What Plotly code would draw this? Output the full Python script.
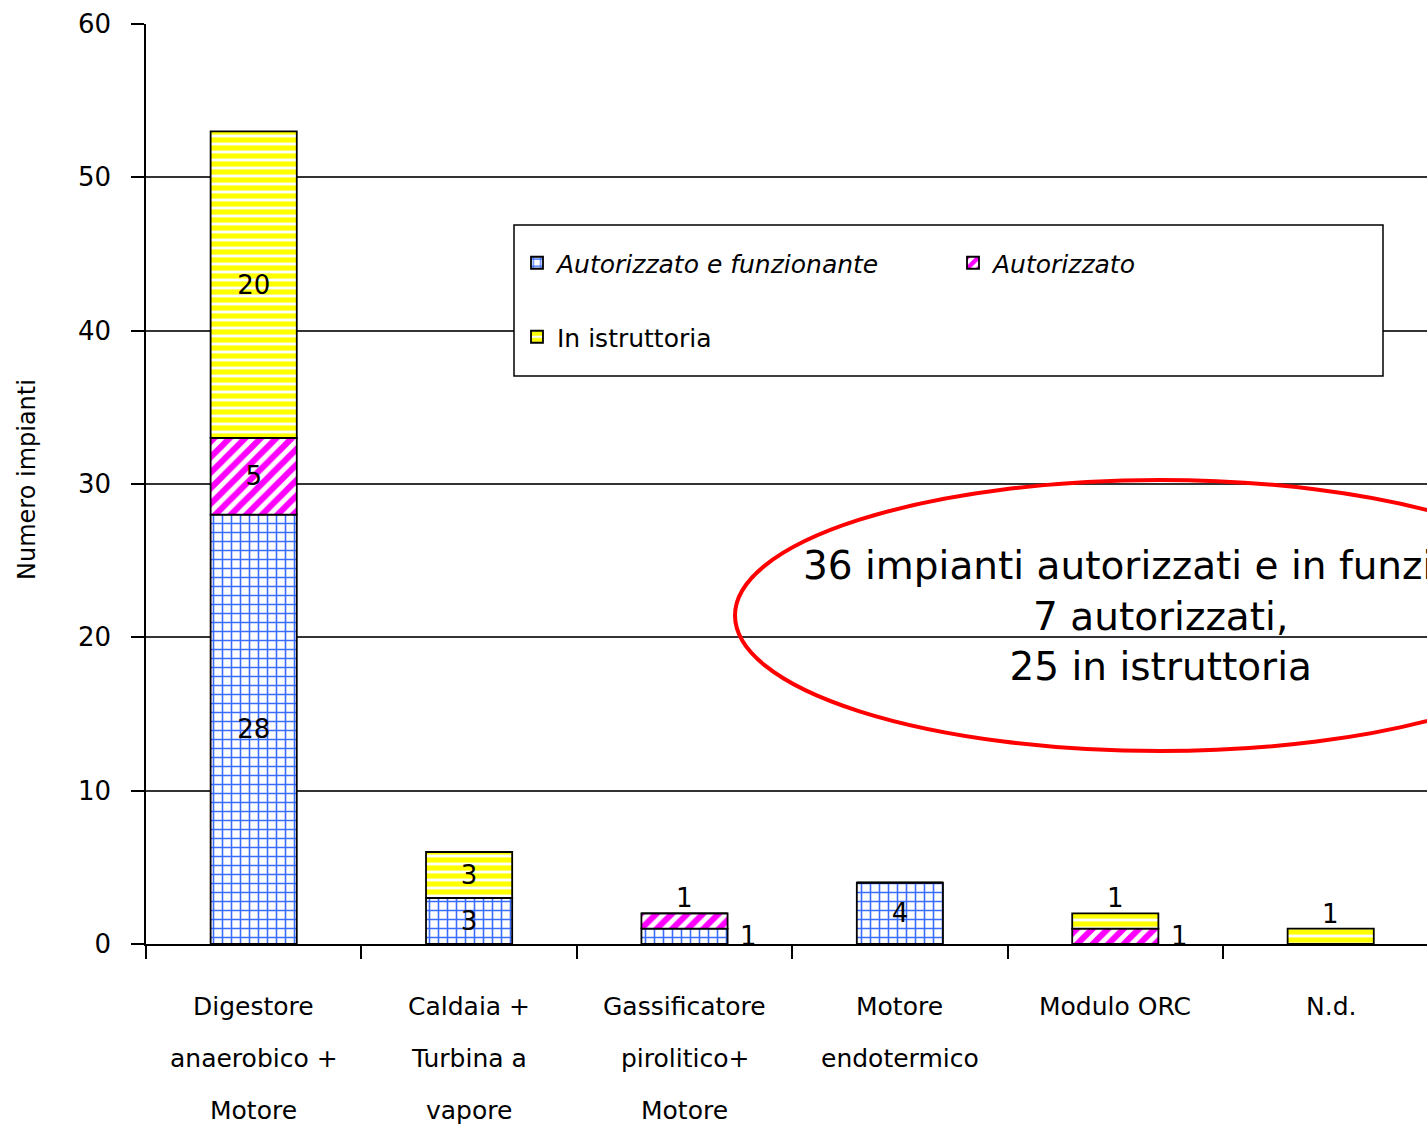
import plotly.graph_objects as go

categories = ["Digestore\nanaerobico +\nMotore", "Caldaia +\nTurbina a\nvapore",
              "Gassificatore\npirolitico+\nMotore", "Motore\nendotermico", "Modulo ORC", "N.d."]
autorizzato_funzionante = [28, 3, 1, 4, 0, 0]
autorizzato = [5, 0, 1, 0, 1, 0]
in_istruttoria = [20, 3, 0, 0, 1, 1]
y_ticks = [0, 10, 20, 30, 40, 50, 60]
note_lines = ["36 impianti autorizzati e in funzione,", "7 autorizzati,", "25 in istruttoria"]

FONT = "DejaVu Sans"
W, H = 1427, 1129
ML, MT, MB = 146, 24, 185
PW = W - ML
PH = H - MT - MB
STEP = 215.4
x_end = -0.5 + PW / STEP

def px(x):
    return (x - ML) / PW

def py(y):
    return (H - MB - y) / PH

series = [
    ("<i>Autorizzato e funzionante</i>", autorizzato_funzionante,
     dict(shape="+", fgcolor="#3a6cff", bgcolor="white", size=9, solidity=0.32, fgopacity=1), "legend"),
    ("<i>Autorizzato</i>", autorizzato,
     dict(shape="/", fgcolor="#ff00ff", bgcolor="white", size=11, solidity=0.55, fgopacity=1), "legend2"),
    ("In istruttoria", in_istruttoria,
     dict(shape="-", fgcolor="#ffff00", bgcolor="white", size=8, solidity=0.65, fgopacity=1), "legend3"),
]

fig = go.Figure()
annotations = []
base = [0] * len(categories)
totals = [sum(v) for v in zip(autorizzato_funzionante, autorizzato, in_istruttoria)]
for name, vals, pat, lg in series:
    texts = [str(v) if v >= 3 else "" for v in vals]
    fig.add_trace(go.Bar(
        x=categories, y=vals, name=name, base=base[:], opacity=1,
        marker=dict(pattern=pat, color="white", opacity=1, line=dict(color="black", width=1.8)),
        text=texts, textposition="inside", insidetextanchor="middle", textangle=0,
        textfont=dict(family=FONT, size=26, color="black"),
        width=0.4, legend=lg,
    ))
    for i, v in enumerate(vals):
        if 0 < v < 3:
            top = base[i] + v
            if top == totals[i]:
                annotations.append(dict(x=categories[i], y=top, xref="x", yref="y", text=str(v),
                                        showarrow=False, xanchor="center", yanchor="bottom", yshift=-2,
                                        font=dict(family=FONT, size=26, color="black")))
            else:
                annotations.append(dict(x=categories[i], y=base[i] + v / 2, xref="x", yref="y",
                                        text=str(v), showarrow=False, xshift=64,
                                        xanchor="center", yanchor="middle",
                                        font=dict(family=FONT, size=26, color="black")))
    base = [b + v for b, v in zip(base, vals)]

# category labels, line by line
for c in categories:
    for j, line in enumerate(c.split("\n")):
        annotations.append(dict(x=c, xref="x", y=0, yref="paper", text=line, showarrow=False,
                                xanchor="center", yanchor="middle", yshift=-(62 + 52 * j),
                                font=dict(family=FONT, size=25, color="black")))

# y-axis title
annotations.append(dict(x=0, xref="paper", y=py(480), yref="paper", text="Numero impianti",
                        textangle=-90, showarrow=False, xshift=-(ML - 27),
                        xanchor="center", yanchor="middle",
                        font=dict(family=FONT, size=24, color="black")))

# note inside the ellipse
annotations.append(dict(x=px(1160), y=py(616), xref="paper", yref="paper",
                        text="<br>".join(note_lines), showarrow=False, align="center",
                        xanchor="center", yanchor="middle",
                        font=dict(family=FONT, size=39, color="black")))

shapes = [
    dict(type="rect", xref="paper", yref="paper", x0=px(514), x1=px(1383), y0=py(376), y1=py(225),
         line=dict(color="black", width=1.5), fillcolor="white", layer="above"),
    dict(type="circle", xref="paper", yref="paper", x0=px(735), x1=px(1585), y0=py(751), y1=py(480),
         line=dict(color="#ff0000", width=4), layer="above"),
]

leg_common = dict(bgcolor="rgba(0,0,0,0)", borderwidth=0, xanchor="left", yanchor="middle",
                  font=dict(family=FONT, size=25, color="black"))

fig.update_layout(
    width=W, height=H,
    margin=dict(l=ML, r=0, t=MT, b=MB, pad=0),
    paper_bgcolor="white", plot_bgcolor="white",
    barmode="overlay",
    showlegend=True,
    legend=dict(x=px(517), y=py(263), **leg_common),
    legend2=dict(x=px(953), y=py(263), **leg_common),
    legend3=dict(x=px(517), y=py(337), **leg_common),
    xaxis=dict(type="category", range=[-0.5, x_end], showticklabels=False,
               ticks="outside", tickson="boundaries", ticklen=13, tickwidth=1.5, tickcolor="black",
               showline=True, linecolor="black", linewidth=1.5, showgrid=False, zeroline=False,
               fixedrange=True),
    yaxis=dict(range=[0, 60], tickvals=y_ticks, ticks="outside", ticklen=13, tickwidth=1.5,
               tickcolor="black", showline=True, linecolor="black", linewidth=1.5,
               showgrid=True, gridcolor="#333333", gridwidth=1.6, zeroline=False,
               tickfont=dict(family=FONT, size=26, color="black"), ticklabelstandoff=15,
               fixedrange=True),
    annotations=annotations,
    shapes=shapes,
)

fig.write_html("out.html", config={"displayModeBar": False},
               post_script="document.body.style.margin='0';")
